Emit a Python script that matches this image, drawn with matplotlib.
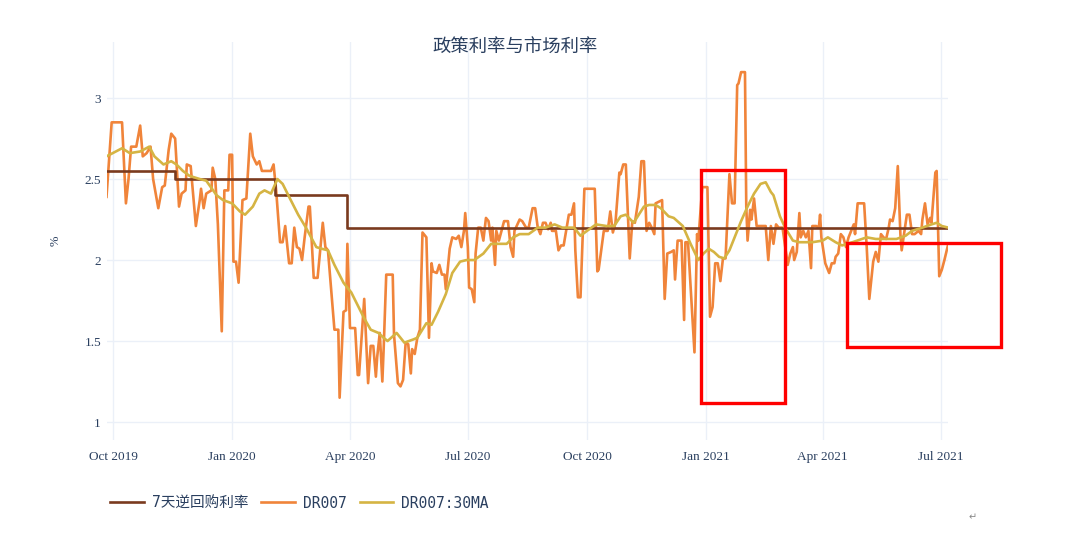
import numpy as np
import pandas as pd
import matplotlib
matplotlib.use('Agg')
from matplotlib import pyplot as plt
import matplotlib.dates as mdates
from matplotlib.patches import Rectangle

# base date, all day offsets below are counted from it
base = pd.Timestamp('2019-10-01')

# 7天逆回购利率 (step line)
policy_date = ['2019-09-26', '2019-11-18', '2020-02-03', '2020-03-30', '2021-07-10']
policy_val = [2.55, 2.50, 2.40, 2.20, 2.20]

# DR007
dr_day = [-5, -1, 7, 10, 12, 14, 18, 21, 23, 26, 29, 31, 35, 38, 40, 43, 45, 48, 51, 53,
          56, 57, 60, 64, 67, 68, 70, 72, 76, 77, 79, 81, 84, 86, 89, 90, 92, 93, 95, 97,
          100, 103, 106, 108, 111, 113, 115, 122, 124, 126, 129, 131, 133, 136, 138, 140, 142, 144, 146, 148,
          151, 152, 155, 158, 162, 164, 166, 171, 174, 175, 178, 180, 181, 183, 187, 189, 190, 193, 194, 197,
          199, 201, 203, 204, 206, 208, 209, 211, 216, 217, 220, 222, 224, 226, 228, 230, 231, 233, 235, 237,
          239, 242, 244, 246, 247, 250, 252, 254, 256, 257, 260, 262, 265, 267, 269, 271, 272, 274, 275, 277,
          279, 280, 282, 284, 286, 288, 290, 292, 293, 295, 296, 298, 300, 302, 305, 307, 309, 310, 314, 316,
          319, 321, 324, 326, 328, 330, 332, 334, 336, 338, 339, 342, 344, 346, 348, 352, 354, 356, 357, 359,
          361, 364, 372, 374, 375, 379, 382, 384, 386, 388, 391, 392, 394, 396, 399, 401, 403, 406, 408, 410,
          412, 414, 416, 418, 419, 424, 426, 428, 431, 433, 434, 436, 439, 441, 442, 444, 446, 449, 451, 452,
          455, 459, 461, 463, 465, 467, 469, 471, 473, 476, 478, 480, 482, 483, 485, 488, 489, 490, 492, 493,
          495, 497, 504, 506, 508, 510, 512, 514, 517, 521, 523, 525, 526, 528, 530, 531, 533, 535, 537, 539,
          540, 543, 545, 546, 547, 550, 553, 555, 557, 558, 560, 562, 564, 566, 568, 570, 572, 573, 575, 580,
          582, 584, 587, 589, 591, 593, 595, 597, 599, 600, 602, 604, 606, 608, 609, 611, 613, 615, 617, 619,
          622, 624, 625, 627, 629, 631, 632, 635, 636, 638, 640, 642, 645]
dr_val = [2.39, 2.85, 2.85, 2.35, 2.50, 2.70, 2.70, 2.83, 2.64, 2.66, 2.70, 2.50, 2.32, 2.45, 2.46, 2.68, 2.78, 2.75, 2.33, 2.41,
          2.43, 2.59, 2.58, 2.21, 2.37, 2.44, 2.32, 2.41, 2.43, 2.57, 2.50, 2.22, 1.56, 2.43, 2.43, 2.65, 2.65, 1.99, 1.99, 1.86,
          2.37, 2.38, 2.78, 2.64, 2.59, 2.61, 2.55, 2.55, 2.59, 2.43, 2.11, 2.11, 2.21, 1.98, 1.98, 2.20, 2.08, 2.07, 2.00, 2.14,
          2.33, 2.33, 1.89, 1.89, 2.23, 2.08, 2.06, 1.57, 1.57, 1.15, 1.68, 1.69, 2.10, 1.58, 1.58, 1.29, 1.29, 1.65, 1.76, 1.24,
          1.47, 1.47, 1.28, 1.40, 1.55, 1.25, 1.45, 1.91, 1.91, 1.54, 1.24, 1.22, 1.26, 1.49, 1.48, 1.30, 1.45, 1.42, 1.52, 1.57,
          2.17, 2.14, 1.52, 1.98, 1.93, 1.92, 1.97, 1.91, 1.91, 1.82, 2.07, 2.14, 2.13, 2.15, 2.08, 2.18, 2.29, 2.08, 1.83, 1.82,
          1.74, 2.04, 2.20, 2.20, 2.12, 2.26, 2.24, 2.12, 2.20, 1.97, 2.18, 2.12, 2.18, 2.24, 2.24, 2.08, 2.02, 2.18, 2.25, 2.24,
          2.20, 2.20, 2.32, 2.32, 2.20, 2.16, 2.23, 2.23, 2.19, 2.23, 2.18, 2.18, 2.06, 2.09, 2.09, 2.28, 2.28, 2.35, 2.06, 1.77,
          1.77, 2.44, 2.44, 1.93, 1.94, 2.18, 2.18, 2.30, 2.17, 2.23, 2.54, 2.53, 2.59, 2.59, 2.01, 2.24, 2.23, 2.39, 2.61, 2.61,
          2.18, 2.23, 2.20, 2.16, 2.35, 2.37, 1.76, 2.04, 2.05, 2.06, 1.88, 2.12, 2.12, 1.63, 2.11, 2.11, 1.84, 1.43, 2.16, 2.12,
          2.45, 2.45, 1.65, 1.71, 1.98, 1.98, 1.87, 2.01, 2.01, 2.53, 2.35, 2.35, 3.08, 3.09, 3.16, 3.16, 2.33, 2.12, 2.31, 2.25,
          2.38, 2.21, 2.21, 2.00, 2.21, 2.10, 2.22, 2.20, 2.20, 1.97, 2.04, 2.08, 2.00, 2.05, 2.29, 2.14, 2.18, 2.14, 2.18, 1.95,
          2.21, 2.21, 2.20, 2.28, 2.14, 1.98, 1.92, 1.98, 1.98, 2.02, 2.04, 2.16, 2.14, 2.08, 2.14, 2.18, 2.22, 2.16, 2.35, 2.35,
          2.08, 1.76, 1.99, 2.05, 1.99, 2.16, 2.14, 2.13, 2.20, 2.25, 2.24, 2.32, 2.58, 2.16, 2.06, 2.17, 2.28, 2.28, 2.16, 2.16,
          2.18, 2.16, 2.25, 2.35, 2.22, 2.26, 2.23, 2.54, 2.55, 1.90, 1.94, 2.00, 2.10]

# DR007:30MA
ma_day = [-5, 7, 13, 21, 28, 32, 39, 45, 49, 54, 59, 67, 72, 80, 85, 92, 98, 102, 108, 113,
          117, 122, 127, 131, 136, 143, 149, 157, 161, 166, 171, 178, 184, 189, 194, 199, 205, 209, 212, 219,
          225, 232, 235, 242, 246, 251, 257, 262, 268, 273, 279, 286, 292, 297, 304, 309, 314, 321, 328, 334,
          341, 347, 356, 361, 366, 373, 381, 387, 392, 396, 402, 410, 414, 419, 423, 429, 433, 440, 446, 452,
          456, 460, 464, 468, 472, 476, 480, 485, 490, 495, 500, 504, 508, 510, 515, 519, 525, 530, 540, 548,
          552, 558, 563, 571, 582, 589, 597, 605, 612, 617, 625, 632, 636, 640, 645]
ma_val = [2.64, 2.69, 2.66, 2.67, 2.70, 2.64, 2.59, 2.61, 2.59, 2.55, 2.52, 2.50, 2.49, 2.40, 2.37, 2.35, 2.30, 2.28, 2.33, 2.41,
          2.43, 2.41, 2.50, 2.47, 2.39, 2.28, 2.20, 2.08, 2.07, 2.06, 1.97, 1.86, 1.80, 1.72, 1.64, 1.57, 1.55, 1.52, 1.50, 1.55,
          1.49, 1.51, 1.52, 1.61, 1.60, 1.68, 1.79, 1.92, 1.99, 2.00, 2.00, 2.04, 2.10, 2.10, 2.10, 2.14, 2.16, 2.16, 2.20, 2.20,
          2.22, 2.20, 2.20, 2.15, 2.18, 2.22, 2.21, 2.21, 2.27, 2.28, 2.23, 2.33, 2.34, 2.34, 2.32, 2.27, 2.26, 2.21, 2.10, 2.00,
          2.04, 2.07, 2.05, 2.02, 2.01, 2.06, 2.14, 2.24, 2.33, 2.41, 2.47, 2.48, 2.42, 2.40, 2.27, 2.20, 2.12, 2.11, 2.11, 2.12,
          2.14, 2.11, 2.09, 2.11, 2.14, 2.13, 2.13, 2.13, 2.15, 2.18, 2.20, 2.22, 2.23, 2.21, 2.20]

labels = ['7天逆回购利率', 'DR007', 'DR007:30MA']
x_ticks = ['2019-10-01', '2020-01-01', '2020-04-01', '2020-07-01', '2020-10-01',
           '2021-01-01', '2021-04-01', '2021-07-01']
y_ticks = [1, 1.5, 2, 2.5, 3]

# highlighted regions (red boxes): start, end, low, high
boxes = [('2020-12-28', '2021-03-03', 1.117, 2.556),
         ('2021-04-20', '2021-08-17', 1.465, 2.103)]

text_color = '#2a3f5f'
grid_color = '#ebf0f8'

dr_dates = base + pd.to_timedelta(dr_day, unit='D')
ma_dates = base + pd.to_timedelta(ma_day, unit='D')

fig = plt.figure(figsize=(10.8, 5.52), dpi=100)
ax = fig.add_axes([106.5/1080, 1-440/552, (948.3-106.5)/1080, 398/552])

l1, = ax.plot(pd.to_datetime(policy_date), policy_val, drawstyle='steps-post',
              color='#7a3a1e', lw=1.9, zorder=3)
l2, = ax.plot(dr_dates, dr_val, color='#f0843a', lw=1.9, zorder=2)
l3, = ax.plot(ma_dates, ma_val, color='#d5b443', lw=1.9, zorder=4)

ax.set_xlim(dr_dates.min(), dr_dates.max())
ax.set_ylim(0.889, 3.346)
ax.set_xticks(pd.to_datetime(x_ticks))
ax.xaxis.set_major_formatter(mdates.DateFormatter('%b %Y'))
ax.set_yticks(y_ticks)
ax.set_yticklabels(['%g' % v for v in y_ticks])
ax.grid(True, color=grid_color, lw=1)
ax.set_axisbelow(True)
for s in ax.spines.values():
    s.set_visible(False)
ax.tick_params(length=0, colors=text_color, labelsize=9.5, pad=4)
for t in ax.get_xticklabels() + ax.get_yticklabels():
    t.set_fontfamily('Liberation Serif')
ax.tick_params(axis='x', pad=8)
ax.set_ylabel('%', color=text_color, fontsize=9, family='Liberation Serif', labelpad=16)

for start, end, low, high in boxes:
    x0 = mdates.date2num(pd.Timestamp(start))
    x1 = mdates.date2num(pd.Timestamp(end))
    ax.add_patch(Rectangle((x0, low), x1 - x0, high - low, fill=False,
                           edgecolor='#ff0000', lw=2.4, clip_on=False, zorder=6))

fig.text(515/1080, 1-47/552, '政策利率与市场利率', ha='center', va='center',
         color=text_color, fontsize=13.2, family=['Noto Sans CJK SC', 'DejaVu Sans'])

fig.legend([l1, l2, l3], labels, loc='center left', bbox_to_anchor=(110/1080, 1-503/552),
           ncol=3, frameon=False, borderpad=0, borderaxespad=0, handlelength=2.3,
           handletextpad=0.55, columnspacing=0.9,
           prop={'family': ['DejaVu Sans Mono', 'Noto Sans CJK SC'], 'size': 10.5},
           labelcolor=text_color)

fig.text(973/1080, 1-517/552, '↵', ha='center', va='center', color='#888888', fontsize=7)

plt.savefig('out.png', dpi=100)
